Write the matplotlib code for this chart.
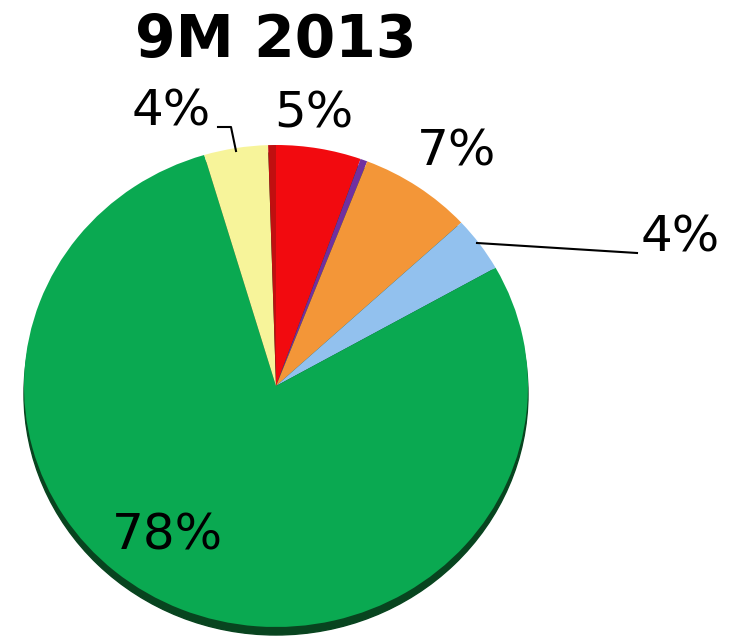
import numpy as np
import matplotlib.pyplot as plt
from matplotlib.patches import Ellipse
from matplotlib.transforms import Affine2D

# donnees (parts en %)
segments = ["rouge", "violet", "orange", "bleu", "vert", "jaune", "rouge fonce"]
parts = [5.45, 0.45, 7.25, 3.7, 78.6, 4.1, 0.5]
couleurs = ["#f20a0f", "#7030a0", "#f39638", "#92c1ee", "#0aa951", "#f7f49a", "#c00f10"]
etiquettes = ["5%", "", "7%", "4%", "78%", "4%", ""]
titre = "9M 2013"

W, H = 736, 639
CX, CY = 276, 386
RX, RY = 252, 241

fig = plt.figure(figsize=(W / 100, H / 100), dpi=100)
ax = fig.add_axes([0, 0, 1, 1])
ax.set_xlim(0, W)
ax.set_ylim(H, 0)
ax.axis("off")

# ombre du bord (effet 3D)
ax.add_patch(Ellipse((CX, CY + 8), 2 * RX, 2 * RY, color="#08441f", zorder=1))

wedges, _ = ax.pie(parts, colors=couleurs, startangle=90, counterclock=False,
                   wedgeprops=dict(linewidth=0), frame=False)
tr = Affine2D().scale(RX, -RY).translate(CX, CY) + ax.transData
for w in wedges:
    w.set_transform(tr)
    w.set_zorder(2)
ax.set_xlim(0, W)
ax.set_ylim(H, 0)
ax.set_aspect("auto")

# position des etiquettes (pixels)
pos = {0: (314, 113), 2: (457, 152), 3: (680, 238), 4: (167, 535), 5: (171, 112)}
for k, (x, y) in pos.items():
    ax.text(x, y, etiquettes[k], fontsize=36, ha="center", va="center", zorder=3)

# lignes de rappel
ax.plot([477, 637], [243, 253], color="black", lw=1.5, zorder=3)
ax.plot([218, 231, 236], [127, 127, 151], color="black", lw=1.5, zorder=3)

ax.text(276, 57, titre, fontsize=42, fontweight="bold", ha="center", va="baseline")

fig.savefig("out.png", dpi=100)
